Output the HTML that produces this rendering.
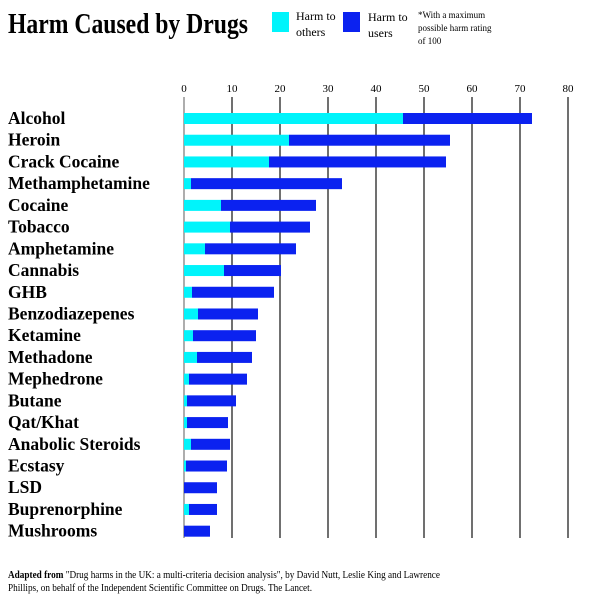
<!DOCTYPE html>
<html><head><style>body{margin:0;background:#fff}svg{display:block}</style></head><body>
<svg width="600" height="600" xmlns="http://www.w3.org/2000/svg" font-family="'Liberation Serif',serif">
<text x="8" y="33" font-size="28" font-weight="bold" textLength="240" lengthAdjust="spacingAndGlyphs">Harm Caused by Drugs</text>
<rect x="272" y="12" width="17" height="20" fill="#00f4fb"/>
<text x="296" y="20" font-size="12">Harm to</text><text x="296" y="36" font-size="12">others</text>
<rect x="343" y="12" width="17" height="20" fill="#0b22f0"/>
<text x="368" y="21" font-size="12">Harm to</text><text x="368" y="37" font-size="12">users</text>
<text x="418" y="18" font-size="9">*With a maximum</text>
<text x="418" y="31" font-size="9">possible harm rating</text>
<text x="418" y="44" font-size="9">of 100</text>
<g id="grid" stroke-width="1.2"></g>
<g id="ticks" font-size="11" text-anchor="middle"></g>
<g id="bars"></g>
<g id="labels" font-size="17.5" font-weight="bold"></g>
<text x="8" y="578" font-size="10.5" textLength="432" lengthAdjust="spacingAndGlyphs"><tspan font-weight="bold">Adapted from</tspan> "Drug harms in the UK: a multi-criteria decision analysis", by David Nutt, Leslie King and Lawrence</text>
<text x="8" y="591" font-size="10.5" textLength="304" lengthAdjust="spacingAndGlyphs">Phillips, on behalf of the Independent Scientific Committee on Drugs. The Lancet.</text>
<script>
var NS="http://www.w3.org/2000/svg";
function el(p,t,a,tx){var e=document.createElementNS(NS,t);for(var k in a)e.setAttribute(k,a[k]);if(tx)e.textContent=tx;document.getElementById(p).appendChild(e);}
for(var i=0;i<=8;i++){var x=184+48*i;el("grid","line",{x1:x,x2:x,y1:97,y2:538,stroke:i==0?"#777":"#111"});el("ticks","text",{x:x,y:92},String(i*10));}
var d=[["Alcohol",403,532],["Heroin",289,450],["Crack Cocaine",269,446],["Methamphetamine",191,342],["Cocaine",221,316],["Tobacco",230,310],["Amphetamine",205,296],["Cannabis",224,281],["GHB",192,274],["Benzodiazepenes",198,258],["Ketamine",193,256],["Methadone",197,252],["Mephedrone",189,247],["Butane",187,236],["Qat/Khat",187,228],["Anabolic Steroids",191,230],["Ecstasy",186,227],["LSD",184,217],["Buprenorphine",189,217],["Mushrooms",184,210]];
d.forEach(function(r,i){var c=118.5+i*21.72;
el("bars","rect",{x:184,y:c-5.5,width:r[1]-184,height:11,fill:"#00f4fb"});
el("bars","rect",{x:r[1],y:c-5.5,width:r[2]-r[1],height:11,fill:"#0b22f0"});
el("labels","text",{x:8,y:c+5.5},r[0]);});
</script>
</svg>
</body></html>
